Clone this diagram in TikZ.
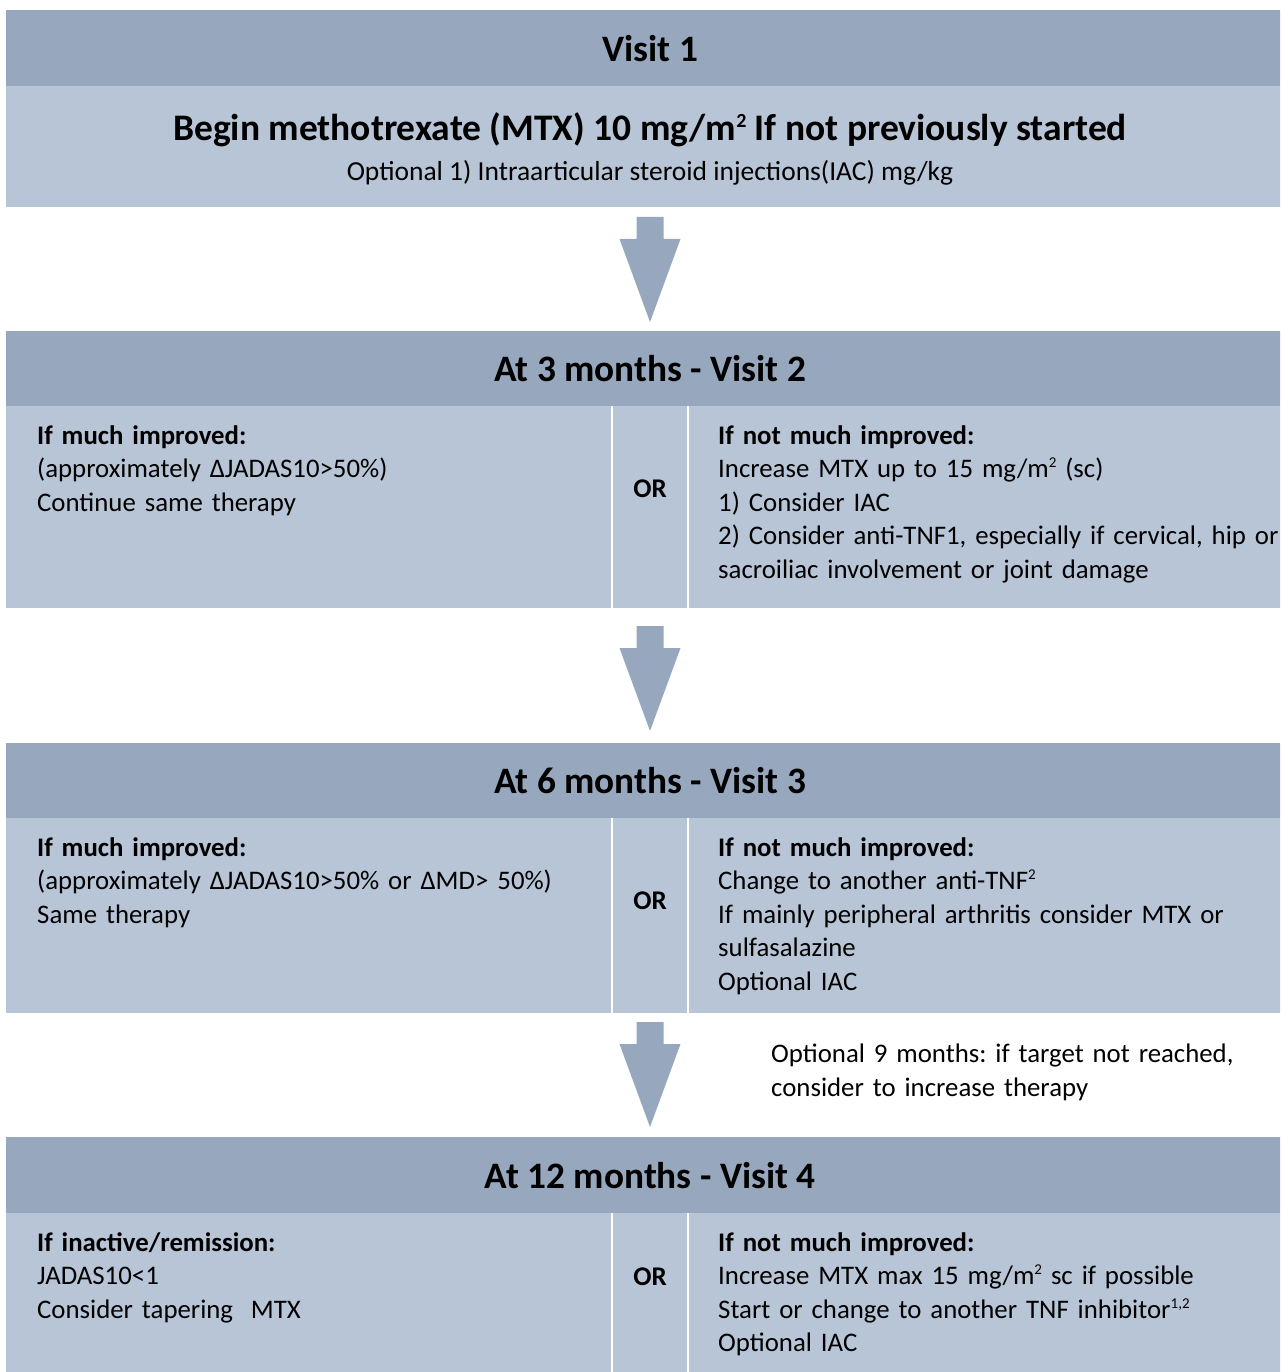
\documentclass[tikz,border=0pt]{standalone}
\usepackage{fontspec}
\setmainfont{Carlito}
\usetikzlibrary{positioning}
\definecolor{headblue}{HTML}{97A8BE}
\definecolor{bodyblue}{HTML}{B8C5D6}
\newcommand{\supnum}[2][15]{\raisebox{0.75ex}{\fontsize{#1}{#1}\selectfont #2}}
\frenchspacing
\tikzset{
  headbar/.style={fill=headblue, inner sep=0pt, anchor=north west, minimum width=1288pt,
    font=\fontsize{37.3}{40}\selectfont\bfseries},
  bodybar/.style={fill=bodyblue, inner sep=0pt, anchor=north west, minimum width=1288pt},
  coltext/.style={inner sep=0pt, anchor=north west, align=left, text width=600pt,
    font=\fontsize{26.8}{33.5}\selectfont},
  ortext/.style={inner sep=0pt, anchor=base, font=\fontsize{27}{33}\selectfont\bfseries},
  divider/.style={white, line width=1.5pt},
  arrowbox/.style={fill=headblue}
}
\begin{document}
\begin{tikzpicture}[x=1pt, y=-1pt]
    \useasboundingbox (0,0) rectangle (1280,1372);
    \begin{scope}
    \clip (0,0) rectangle (1280,1372);
    % visit 1
    \node[headbar, minimum height=76pt] (h1) at (6,10) {Visit 1};
    \node[bodybar, minimum height=121pt] (b1) at (6,86) {};
    \node[inner sep=0pt, anchor=base, font=\fontsize{37.5}{40}\selectfont\bfseries] (t1) at (650,141)
        {Begin methotrexate (MTX) 10 mg/m\supnum[20]{2} If not previously started};
    \node[inner sep=0pt, anchor=base, font=\fontsize{27.5}{30}\selectfont] (t1b) at (650,181)
        {Optional 1) Intraarticular steroid injections(IAC) mg/kg};
    % visit 2
    \node[headbar, minimum height=75pt] (h2) at (6,331) {At 3 months - Visit 2};
    \node[bodybar, minimum height=202pt] (b2) at (6,406) {};
    \draw[divider] (612,406) -- (612,608);
    \draw[divider] (688,406) -- (688,608);
    \node[coltext] (l2) at (37,425) {\textbf{If much improved:}\\(approximately ΔJADAS10>50\%)\\Continue same therapy};
    \node[ortext] (or2) at (650,497) {OR};
    \node[coltext] (r2) at (718,425) {\textbf{If not much improved:}\\Increase MTX up to 15 mg/m\supnum{2} (sc)\\1) Consider IAC\\2) Consider anti-TNF1, especially if cervical, hip or\\sacroiliac involvement or joint damage};
    % visit 3
    \node[headbar, minimum height=75pt] (h3) at (6,743) {At 6 months - Visit 3};
    \node[bodybar, minimum height=195pt] (b3) at (6,818) {};
    \draw[divider] (612,818) -- (612,1013);
    \draw[divider] (688,818) -- (688,1013);
    \node[coltext] (l3) at (37,837) {\textbf{If much improved:}\\(approximately ΔJADAS10>50\% or ΔMD> 50\%)\\Same therapy};
    \node[ortext] (or3) at (650,909) {OR};
    \node[coltext] (r3) at (718,837) {\textbf{If not much improved:}\\Change to another anti-TNF\supnum{2}\\If mainly peripheral arthritis consider MTX or\\sulfasalazine\\Optional IAC};
    \node[coltext, text width=500pt] (n9) at (771,1044) {Optional 9 months: if target not reached,\\consider to increase therapy};
    % visit 4
    \node[headbar, minimum height=76pt] (h4) at (6,1137) {At 12 months - Visit 4};
    \node[bodybar, minimum height=170pt] (b4) at (6,1213) {};
    \draw[divider] (612,1213) -- (612,1380);
    \draw[divider] (688,1213) -- (688,1380);
    \node[coltext] (l4) at (37,1232) {\textbf{If inactive/remission:}\\JADAS10<1\\Consider tapering\ \ MTX};
    \node[ortext] (or4) at (650,1285) {OR};
    \node[coltext] (r4) at (718,1232) {\textbf{If not much improved:}\\Increase MTX max 15 mg/m\supnum{2} sc if possible\\Start or change to another TNF inhibitor\supnum{1,2}\\Optional IAC};
    % arrows between visits
    \coordinate (a1) at (650,217);
    \coordinate (a2) at (650,626);
    \coordinate (a3) at (650,1022);
    \foreach \a in {a1,a2,a3}
        \fill[arrowbox, shift={(\a)}] (-13.5,0) -- (13.5,0) -- (13.5,22) -- (30.5,22) -- (0,105)
            -- (-30.5,22) -- (-13.5,22) -- cycle;
    \end{scope}
\end{tikzpicture}
\end{document}
